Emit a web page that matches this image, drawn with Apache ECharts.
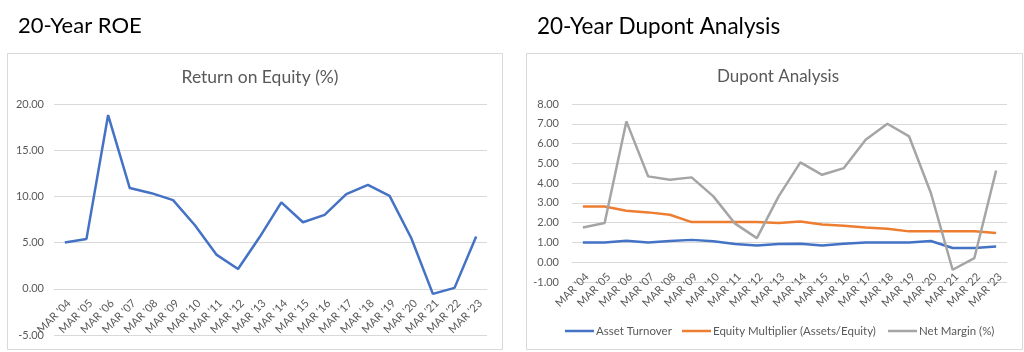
<!DOCTYPE html>
<html>
<head>
<meta charset="utf-8">
<script src="https://cdn.jsdelivr.net/npm/echarts@6/dist/echarts.min.js"></script>
<style>
html,body{margin:0;padding:0;background:#fff;}
#c{width:1024px;height:352px;}
</style>
</head>
<body>
<div id="c"></div>
<script>
var categories = ["MAR '04","MAR '05","MAR '06","MAR '07","MAR '08","MAR '09","MAR '10","MAR '11","MAR '12","MAR '13","MAR '14","MAR '15","MAR '16","MAR '17","MAR '18","MAR '19","MAR '20","MAR '21","MAR '22","MAR '23"];
var roe = [5.0, 5.4, 18.8, 10.9, 10.35, 9.6, 6.9, 3.7, 2.15, 5.6, 9.35, 7.2, 8.0, 10.25, 11.25, 10.05, 5.5, -0.55, 0.1, 5.65];
var assetTurnover = [1.0, 1.0, 1.08, 1.0, 1.07, 1.13, 1.06, 0.92, 0.85, 0.92, 0.94, 0.85, 0.94, 1.0, 1.0, 1.0, 1.07, 0.72, 0.72, 0.8];
var equityMultiplier = [2.82, 2.82, 2.6, 2.52, 2.4, 2.03, 2.03, 2.03, 2.03, 1.98, 2.06, 1.91, 1.85, 1.76, 1.69, 1.56, 1.56, 1.56, 1.56, 1.48];
var netMargin = [1.76, 1.98, 7.12, 4.34, 4.17, 4.29, 3.33, 1.95, 1.22, 3.33, 5.05, 4.42, 4.76, 6.19, 7.0, 6.36, 3.5, -0.38, 0.21, 4.64];

var FONT = 'Lato, "Liberation Sans", sans-serif';
var GRID = '#d9d9d9';
var TXT = '#595959';

// grid geometry
var G0 = {left: 54, right: 537, top: 104, height: 231, min: -5, max: 20};
var G1 = {left: 572, right: 17, top: 104, height: 178, min: -1, max: 8};
function zeroOffset(g) { return -g.height * (0 - g.min) / (g.max - g.min); }

var chart = echarts.init(document.getElementById('c'), null, {renderer: 'canvas'});

function xAx(gi, g) {
  return {
    type: 'category', gridIndex: gi, data: categories, boundaryGap: true, position: 'bottom',
    offset: zeroOffset(g),
    axisLine: {onZero: false, lineStyle: {color: GRID, width: 1}},
    axisTick: {show: false},
    axisLabel: {rotate: 45, fontSize: 11, color: TXT, fontFamily: FONT, margin: 17, interval: 0,
      padding: [0, -6, 0, 0]}
  };
}
function yAx(gi, g, step, margin) {
  return {
    type: 'value', gridIndex: gi, min: g.min, max: g.max, interval: step,
    axisLine: {show: false}, axisTick: {show: false},
    splitLine: {lineStyle: {color: GRID, width: 1}},
    axisLabel: {fontSize: 11, color: TXT, fontFamily: FONT, margin: margin,
      formatter: function (v) { return v.toFixed(2); }}
  };
}
function leg(left, name) {
  return {
    left: left, top: 320, itemWidth: 29, itemHeight: 2.5, itemGap: 0, icon: 'rect',
    textStyle: {fontSize: 11.5, color: TXT, fontFamily: FONT, padding: [0, 0, 0, -3]},
    data: [name]
  };
}

chart.setOption({
  animation: false,
  backgroundColor: '#fff',
  textStyle: {fontFamily: FONT},
  graphic: [
    {type: 'rect', shape: {x: 7.5, y: 53.5, width: 495, height: 296}, style: {fill: 'none', stroke: GRID, lineWidth: 1}},
    {type: 'rect', shape: {x: 526.5, y: 53.5, width: 496, height: 296}, style: {fill: 'none', stroke: GRID, lineWidth: 1}}
  ],
  title: [
    {text: '20-Year ROE', left: 13, top: 10, textStyle: {fontSize: 22, fontWeight: 'normal', color: '#000', fontFamily: FONT}},
    {text: '20-Year Dupont Analysis', left: 532, top: 10, textStyle: {fontSize: 22.5, fontWeight: 'normal', color: '#000', fontFamily: FONT}},
    {text: 'Return on Equity (%)', left: 255, textAlign: 'center', top: 63, textStyle: {fontSize: 17.5, fontWeight: 'normal', color: TXT, fontFamily: FONT}},
    {text: 'Dupont Analysis', left: 773, textAlign: 'center', top: 63, textStyle: {fontSize: 17, fontWeight: 'normal', color: TXT, fontFamily: FONT}}
  ],
  legend: [
    leg(560, 'Asset Turnover'),
    leg(677, 'Equity Multiplier (Assets/Equity)'),
    leg(883, 'Net Margin (%)')
  ],
  grid: [
    {left: G0.left, right: G0.right, top: G0.top, height: G0.height, outerBoundsMode: 'none'},
    {left: G1.left, right: G1.right, top: G1.top, height: G1.height, outerBoundsMode: 'none'}
  ],
  xAxis: [xAx(0, G0), xAx(1, G1)],
  yAxis: [yAx(0, G0, 5, 10), yAx(1, G1, 1, 13)],
  series: [
    {name: 'Return on Equity (%)', type: 'line', xAxisIndex: 0, yAxisIndex: 0, data: roe, symbol: 'none',
      lineStyle: {color: '#4472C4', width: 2.5}, itemStyle: {color: '#4472C4'}},
    {name: 'Asset Turnover', type: 'line', xAxisIndex: 1, yAxisIndex: 1, data: assetTurnover, symbol: 'none',
      lineStyle: {color: '#4472C4', width: 2.5}, itemStyle: {color: '#4472C4'}},
    {name: 'Equity Multiplier (Assets/Equity)', type: 'line', xAxisIndex: 1, yAxisIndex: 1, data: equityMultiplier, symbol: 'none',
      lineStyle: {color: '#ED7D31', width: 2.5}, itemStyle: {color: '#ED7D31'}},
    {name: 'Net Margin (%)', type: 'line', xAxisIndex: 1, yAxisIndex: 1, data: netMargin, symbol: 'none',
      lineStyle: {color: '#A5A5A5', width: 2.5}, itemStyle: {color: '#A5A5A5'}}
  ]
});
</script>
</body>
</html>
